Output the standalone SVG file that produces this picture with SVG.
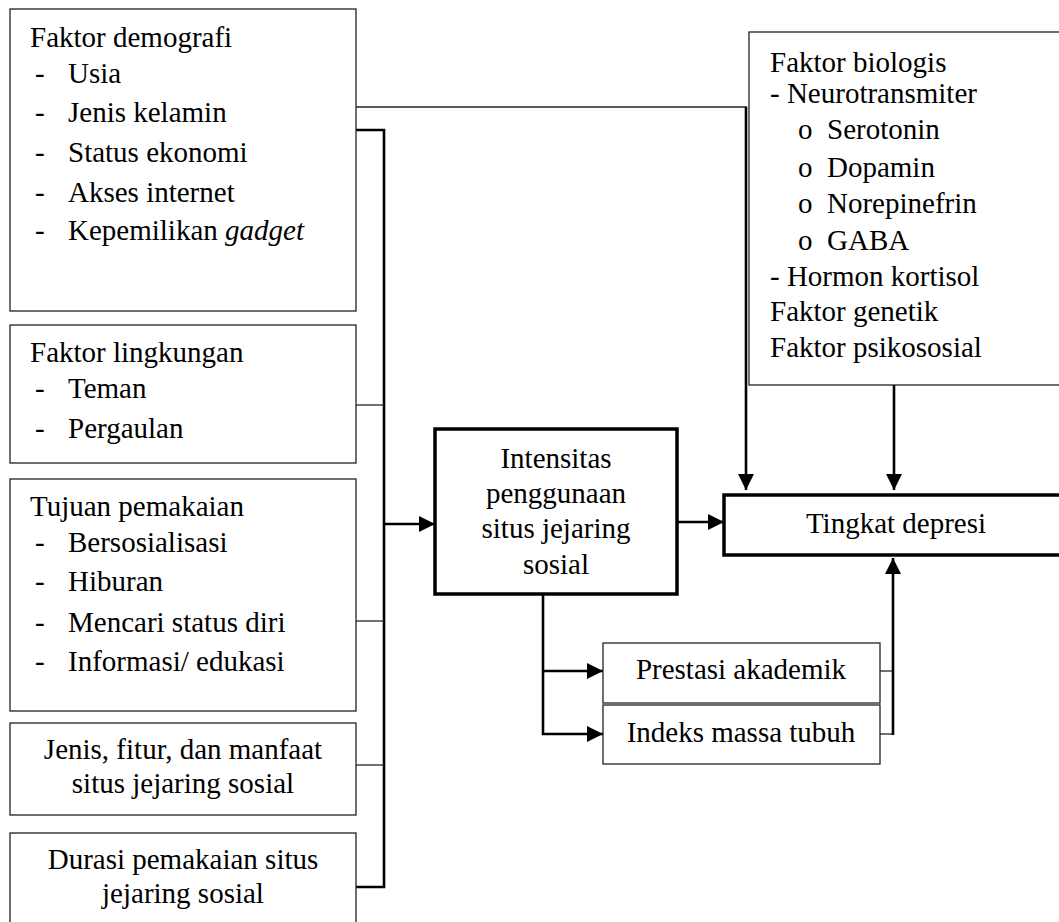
<svg xmlns="http://www.w3.org/2000/svg" width="1059" height="922" viewBox="0 0 1059 922" font-family="Liberation Serif, Times New Roman, DejaVu Serif, serif" font-size="29">
<style>
text{font-family:'Liberation Serif','Times New Roman','DejaVu Serif',serif;font-size:29px;fill:#000}
.c{text-anchor:middle}
.box{fill:#fff;stroke:#222;stroke-width:1.3}
.bold{fill:#fff;stroke:#000;stroke-width:3.5}
.thin{fill:none;stroke:#222;stroke-width:1.3}
.thick{fill:none;stroke:#000;stroke-width:2.6}
</style>
<defs>
<marker id="ah" markerUnits="userSpaceOnUse" markerWidth="16" markerHeight="16" refX="16" refY="8" orient="auto" viewBox="0 0 16 16">
<path d="M0,0 L16,8 L0,16 z" fill="#000"/>
</marker>
</defs>
<rect width="1059" height="922" fill="#fff"/>
<g id="connectors">
<line class="thin" x1="356" y1="107" x2="747" y2="107"/>
<line class="thick" x1="746" y1="107" x2="746" y2="490" marker-end="url(#ah)"/>
<line class="thick" x1="894" y1="385" x2="894" y2="490" marker-end="url(#ah)"/>
<polyline class="thick" points="356,130 384,130 384,887 356,887"/>
<line class="thin" x1="356" y1="405" x2="384" y2="405"/>
<line class="thin" x1="356" y1="621" x2="384" y2="621"/>
<line class="thin" x1="356" y1="765" x2="384" y2="765"/>
<line class="thick" x1="384" y1="524" x2="435" y2="524" marker-end="url(#ah)"/>
<line class="thick" x1="677" y1="522" x2="724" y2="522" marker-end="url(#ah)"/>
<polyline class="thick" points="543,594 543,734 603,734" marker-end="url(#ah)"/>
<line class="thick" x1="543" y1="671" x2="603" y2="671" marker-end="url(#ah)"/>
<line class="thin" x1="880" y1="671" x2="893" y2="671"/>
<line class="thin" x1="880" y1="734" x2="893" y2="734"/>
<line class="thick" x1="893" y1="735" x2="893" y2="558" marker-end="url(#ah)"/>
</g>
<g id="demografi">
<rect class="box" x="10" y="9" width="346" height="302"/>
<text x="30" y="47">Faktor demografi</text>
<text x="35" y="83">-</text><text x="68" y="83">Usia</text>
<text x="35" y="122">-</text><text x="68" y="122">Jenis kelamin</text>
<text x="35" y="162">-</text><text x="68" y="162">Status ekonomi</text>
<text x="35" y="202">-</text><text x="68" y="202">Akses internet</text>
<text x="35" y="240">-</text><text x="68" y="240">Kepemilikan <tspan font-style="italic">gadget</tspan></text>
</g>
<g id="lingkungan">
<rect class="box" x="10" y="325" width="346" height="138"/>
<text x="30" y="362">Faktor lingkungan</text>
<text x="35" y="398">-</text><text x="68" y="398">Teman</text>
<text x="35" y="438">-</text><text x="68" y="438">Pergaulan</text>
</g>
<g id="tujuan">
<rect class="box" x="10" y="479" width="346" height="232"/>
<text x="30" y="516">Tujuan pemakaian</text>
<text x="35" y="552">-</text><text x="68" y="552">Bersosialisasi</text>
<text x="35" y="591">-</text><text x="68" y="591">Hiburan</text>
<text x="35" y="632">-</text><text x="68" y="632">Mencari status diri</text>
<text x="35" y="671">-</text><text x="68" y="671">Informasi/ edukasi</text>
</g>
<g id="jenis">
<rect class="box" x="10" y="723" width="346" height="92"/>
<text class="c" x="183" y="759">Jenis, fitur, dan manfaat</text>
<text class="c" x="183" y="793">situs jejaring sosial</text>
</g>
<g id="durasi">
<rect class="box" x="10" y="833" width="346" height="100"/>
<text class="c" x="183" y="869">Durasi pemakaian situs</text>
<text class="c" x="183" y="903">jejaring sosial</text>
</g>
<g id="biologis">
<rect class="box" x="749" y="32" width="320" height="353"/>
<text x="770" y="72">Faktor biologis</text>
<text x="770" y="103">- Neurotransmiter</text>
<text x="798" y="139">o</text><text x="827" y="139">Serotonin</text>
<text x="798" y="177">o</text><text x="827" y="177">Dopamin</text>
<text x="798" y="213">o</text><text x="827" y="213">Norepinefrin</text>
<text x="798" y="250">o</text><text x="827" y="250">GABA</text>
<text x="770" y="286">- Hormon kortisol</text>
<text x="770" y="321">Faktor genetik</text>
<text x="770" y="357">Faktor psikososial</text>
</g>
<g id="intensitas">
<rect class="bold" x="435" y="429" width="242" height="165"/>
<text class="c" x="556" y="468">Intensitas</text>
<text class="c" x="556" y="503">penggunaan</text>
<text class="c" x="556" y="538">situs jejaring</text>
<text class="c" x="556" y="574">sosial</text>
</g>
<g id="depresi">
<rect class="bold" x="724" y="495" width="345" height="60"/>
<text class="c" x="896" y="533">Tingkat depresi</text>
</g>
<g id="prestasi">
<rect class="box" x="603" y="643" width="277" height="60"/>
<text class="c" x="741" y="679">Prestasi akademik</text>
</g>
<g id="imt">
<rect class="box" x="603" y="705" width="277" height="59"/>
<text class="c" x="741" y="742">Indeks massa tubuh</text>
</g>
</svg>
